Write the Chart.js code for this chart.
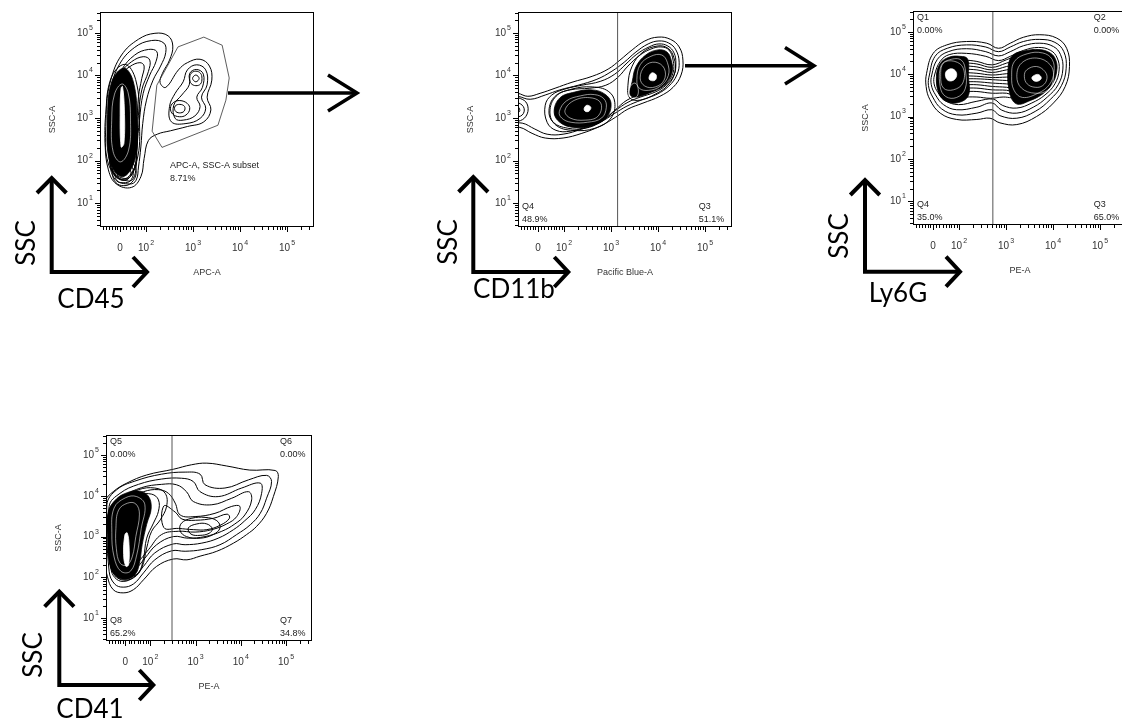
<!DOCTYPE html>
<html>
<head>
<meta charset="utf-8">
<script src="https://cdn.jsdelivr.net/npm/chart.js@4.4.1/dist/chart.umd.min.js"></script>
<style>
  html, body { margin: 0; padding: 0; background: #fff; }
  body { position: relative; width: 1122px; height: 723px; overflow: hidden; }
  canvas { position: absolute; }
  svg { position: absolute; left: 0; top: 0; }
  .big { position: absolute; font-family: Lato, "Open Sans", sans-serif; font-size: 26px; line-height: 1; color: #000; white-space: nowrap; transform: translate(-50%, -50%); }
  .big.rot { transform: translate(-50%, -50%) rotate(-90deg); }
</style>
</head>
<body>
<canvas id="p1" width="330" height="290" style="left:0px;top:0px"></canvas>
<canvas id="p2" width="330" height="290" style="left:418px;top:0px"></canvas>
<canvas id="p3" width="330" height="290" style="left:813px;top:0px"></canvas>
<canvas id="p4" width="330" height="290" style="left:6px;top:423px"></canvas>

<svg width="1122" height="723" fill="none" stroke="#000" stroke-width="4">
  <!-- axis arrows -->
  <polyline points="51.7,178 51.7,272 147,272" />
  <polyline points="37,193 51.7,178 66.4,193" />
  <polyline points="133,257 147,272 133,287" />
  <polyline points="473.3,177 473.3,272 568.3,272" />
  <polyline points="458.6,192 473.3,177 488,192" />
  <polyline points="554.3,257 568.3,272 554.3,287" />
  <polyline points="865,180 865,271.7 960,271.7" />
  <polyline points="850.3,195 865,180 879.7,195" />
  <polyline points="946,256.7 960,271.7 946,286.7" />
  <polyline points="59.3,591.7 59.3,685 153.3,685" />
  <polyline points="44.6,606.7 59.3,591.7 74,606.7" />
  <polyline points="139.3,670 153.3,685 139.3,700" />
  <!-- gating flow arrows -->
  <g stroke-width="3.5">
    <line x1="228" y1="93" x2="357" y2="93" />
    <polyline points="328,75 357,93 328,111" />
    <line x1="685" y1="65.7" x2="814" y2="65.7" />
    <polyline points="785,47.5 814,65.7 785,84" />
  </g>
</svg>

<div class="big rot" style="left:25px;top:243px">SSC</div>
<div class="big" style="left:91px;top:298px">CD45</div>
<div class="big rot" style="left:447px;top:242px">SSC</div>
<div class="big" style="left:514px;top:288px">CD11b</div>
<div class="big rot" style="left:838px;top:236px">SSC</div>
<div class="big" style="left:898px;top:292px">Ly6G</div>
<div class="big rot" style="left:32px;top:655px">SSC</div>
<div class="big" style="left:90px;top:708px">CD41</div>

<script>
// axis layout shared by all four plots (log10 units, logicle-compressed below 10^2)
const xMin = 1.021, xMax = 5.574;
const yMin = 0.44, yMax = 5.49;
const xTickPos = [1.447, 2, 3, 4, 5];
const xTickLabels = ["0", "10^2", "10^3", "10^4", "10^5"];
const xLowTicks = [1.08, 1.15, 1.22, 1.28, 1.34, 1.39, 1.52, 1.58, 1.65, 1.72, 1.78, 1.84, 1.9, 1.95];
const yTickPos = [1, 2, 3, 4, 5];
const yTickLabels = ["10^1", "10^2", "10^3", "10^4", "10^5"];

// ---- plot 1: APC-A (CD45) vs SSC-A ----
const p1Rings = [
  [[1.69,1.37],[1.37,1.45],[1.20,1.78],[1.13,2.40],[1.15,3.19],[1.25,3.89],[1.48,4.48],[1.84,4.85],[2.19,4.99],[2.47,4.93],[2.57,4.69],[2.50,4.36],[2.35,4.05],[2.30,3.83],[2.42,3.72],[2.69,4.13],[2.88,4.30],[3.15,4.38],[3.35,4.22],[3.40,3.89],[3.30,3.49],[3.38,3.19],[3.23,2.91],[2.88,2.80],[2.52,2.70],[2.24,2.62],[2.05,2.47],[1.96,2.05],[1.89,1.62]],
  [[1.66,1.45],[1.34,1.56],[1.22,2.05],[1.19,2.87],[1.25,3.66],[1.43,4.25],[1.76,4.66],[2.12,4.82],[2.38,4.76],[2.42,4.54],[2.31,4.22],[2.15,3.89],[2.01,3.42],[1.93,2.87],[1.89,2.32],[1.84,1.85],[1.79,1.54]],
  [[1.62,1.52],[1.34,1.66],[1.25,2.17],[1.23,2.95],[1.30,3.66],[1.48,4.13],[1.76,4.48],[2.05,4.61],[2.23,4.56],[2.21,4.32],[2.08,4.01],[1.94,3.58],[1.86,2.95],[1.81,2.32],[1.79,1.85],[1.73,1.58]],
  [[1.55,1.54],[1.30,1.70],[1.22,2.25],[1.20,2.95],[1.27,3.66],[1.45,4.05],[1.69,4.32],[1.94,4.44],[2.08,4.36],[2.05,4.09],[1.91,3.66],[1.83,2.95],[1.80,2.25],[1.74,1.78]],
  [[1.59,1.58],[1.29,1.76],[1.20,2.40],[1.20,3.03],[1.25,3.70],[1.41,3.97],[1.66,4.21],[1.87,4.30],[1.96,4.22],[1.91,3.93],[1.84,3.50],[1.81,2.87],[1.80,2.25],[1.76,1.81]],
  [[1.55,4.26],[1.78,3.90],[1.86,2.95],[1.80,1.98],[1.52,1.56],[1.20,1.92],[1.15,2.95],[1.25,3.92]],
  [[1.55,2.05],[1.73,1.93],[1.79,1.70],[1.69,1.48],[1.53,1.41],[1.36,1.48],[1.29,1.70],[1.36,1.93]],
  [[1.54,1.97],[1.69,1.87],[1.73,1.70],[1.66,1.52],[1.53,1.48],[1.39,1.52],[1.34,1.70],[1.40,1.87]],
  [[1.54,1.89],[1.64,1.82],[1.68,1.68],[1.62,1.57],[1.53,1.54],[1.43,1.57],[1.39,1.68],[1.43,1.82]],
  [[2.54,2.91],[2.50,3.27],[2.62,3.58],[2.79,3.85],[2.88,4.13],[3.08,4.25],[3.27,4.13],[3.30,3.78],[3.18,3.49],[3.27,3.23],[3.15,2.99],[2.85,2.87]],
  [[2.62,2.99],[2.59,3.30],[2.76,3.54],[2.92,3.78],[2.93,4.05],[3.08,4.14],[3.22,4.03],[3.20,3.72],[3.08,3.49],[3.15,3.27],[3.04,3.05],[2.79,2.95]],
  [[3.06,4.10],[3.16,4.05],[3.19,3.93],[3.16,3.80],[3.06,3.76],[2.96,3.81],[2.93,3.93],[2.96,4.05]],
  [[3.06,4.01],[3.13,3.93],[3.06,3.85],[2.99,3.93]],
  [[2.72,3.41],[2.88,3.34],[2.93,3.21],[2.85,3.07],[2.71,3.03],[2.57,3.09],[2.52,3.23],[2.58,3.36]],
  [[2.72,3.32],[2.82,3.27],[2.81,3.16],[2.71,3.12],[2.62,3.17],[2.62,3.28]]
];
const p1Core = [
  [[1.53,4.17],[1.73,3.85],[1.81,2.95],[1.76,2.01],[1.50,1.62],[1.23,1.97],[1.18,2.95],[1.27,3.85]]
];
const p1Texture = [
  [[1.49,3.80],[1.62,3.59],[1.67,2.95],[1.63,2.25],[1.46,1.97],[1.30,2.21],[1.27,2.95],[1.33,3.56]]
];
const p1Bright = [
  [[1.50,3.74],[1.54,3.19],[1.53,2.40],[1.47,2.32],[1.45,3.19],[1.47,3.70]]
];
const p1Gate = [[2.68,4.67],[3.23,4.90],[3.62,4.71],[3.77,3.94],[3.70,3.42],[3.53,2.83],[2.34,2.31],[2.13,2.69],[2.23,3.77]];
const p1Subset = ["APC-A, SSC-A subset", "8.71%"];

// ---- plot 2: Pacific Blue-A (CD11b) vs SSC-A ----
const p2Rings = [
  [[0.74,3.61],[1.02,3.58],[1.23,3.51],[1.49,3.58],[1.81,3.70],[2.17,3.84],[2.60,3.98],[2.94,4.15],[3.19,4.36],[3.45,4.60],[3.72,4.81],[4.00,4.90],[4.26,4.85],[4.45,4.67],[4.53,4.36],[4.49,4.01],[4.32,3.72],[4.04,3.51],[3.68,3.35],[3.36,3.21],[3.10,3.02],[2.77,2.81],[2.38,2.64],[1.98,2.53],[1.60,2.53],[1.32,2.64],[1.06,2.78],[0.74,2.78],[0.53,3.18]],
  [[0.74,3.54],[1.02,3.51],[1.28,3.44],[1.60,3.54],[1.91,3.66],[2.30,3.77],[2.70,3.91],[3.02,4.10],[3.28,4.31],[3.53,4.55],[3.79,4.74],[4.02,4.81],[4.23,4.76],[4.38,4.60],[4.45,4.31],[4.40,4.01],[4.23,3.75],[3.98,3.56],[3.64,3.42],[3.34,3.28],[3.08,3.11],[2.77,2.90],[2.38,2.74],[1.98,2.62],[1.64,2.62],[1.38,2.74],[1.11,2.88],[0.74,2.88],[0.53,3.20]],
  [[1.60,3.30],[1.74,3.54],[2.02,3.68],[2.38,3.77],[2.77,3.86],[3.08,4.03],[3.32,4.27],[3.55,4.50],[3.81,4.67],[4.02,4.74],[4.21,4.69],[4.34,4.53],[4.38,4.29],[4.34,4.01],[4.17,3.77],[3.94,3.61],[3.62,3.49],[3.36,3.37],[3.10,3.18],[2.85,2.97],[2.51,2.81],[2.13,2.69],[1.83,2.71],[1.64,2.90]],
  [[1.68,3.18],[1.81,3.51],[2.13,3.66],[2.55,3.70],[2.89,3.77],[3.15,3.96],[3.36,4.22],[3.62,4.48],[3.85,4.62],[4.06,4.67],[4.23,4.60],[4.32,4.36],[4.32,4.06],[4.17,3.80],[3.91,3.63],[3.62,3.54],[3.34,3.42],[3.08,3.18],[2.77,2.90],[2.45,2.76],[2.08,2.76],[1.77,2.90]],
  [[1.70,3.14],[1.83,3.51],[2.17,3.68],[2.60,3.73],[2.94,3.63],[3.08,3.37],[3.00,3.00],[2.66,2.76],[2.19,2.71],[1.83,2.83]],
  [[3.36,3.77],[3.45,4.22],[3.68,4.55],[3.98,4.69],[4.21,4.64],[4.34,4.41],[4.36,4.08],[4.21,3.77],[3.94,3.56],[3.62,3.42],[3.40,3.47]],
  [[0.81,3.47],[1.11,3.44],[1.23,3.28],[1.19,3.04],[1.02,2.92],[0.81,2.92]],
  [[0.85,3.37],[1.04,3.35],[1.15,3.23],[1.11,3.07],[0.94,3.02],[0.85,3.04]],
  [[0.89,3.28],[1.00,3.28],[1.06,3.18],[1.00,3.11],[0.89,3.11]]
];
const p2Core = [
  [[1.79,3.14],[1.91,3.47],[2.23,3.61],[2.60,3.66],[2.87,3.56],[3.00,3.35],[2.91,3.02],[2.62,2.83],[2.21,2.78],[1.91,2.90]],
  [[3.40,3.60],[3.45,3.85],[3.53,4.20],[3.74,4.48],[4.00,4.60],[4.19,4.55],[4.28,4.36],[4.30,4.08],[4.15,3.80],[3.89,3.63],[3.62,3.51],[3.45,3.50]]
];
const p2Texture = [
  [[1.90,3.15],[2.05,3.40],[2.35,3.52],[2.65,3.55],[2.85,3.45],[2.90,3.25],[2.80,3.00],[2.50,2.90],[2.15,2.90],[1.95,3.00]],
  [[2.02,3.18],[2.23,3.42],[2.60,3.47],[2.79,3.33],[2.72,3.04],[2.45,2.95],[2.13,3.00]],
  [[3.55,3.90],[3.62,4.25],[3.85,4.45],[4.08,4.48],[4.20,4.30],[4.22,4.00],[4.05,3.75],[3.80,3.65],[3.60,3.70]],
  [[3.62,3.94],[3.72,4.22],[3.94,4.31],[4.13,4.17],[4.13,3.89],[3.94,3.73],[3.72,3.75]],
  [[3.38,3.61],[3.43,3.77],[3.51,3.82],[3.57,3.73],[3.57,3.54],[3.49,3.47],[3.40,3.49]]
];
const p2Bright = [
  [[2.43,3.23],[2.49,3.30],[2.57,3.25],[2.53,3.16],[2.45,3.16]],
  [[3.81,3.96],[3.87,4.06],[3.96,4.01],[3.94,3.89],[3.83,3.89]]
];
const p2GateX = 3.14;
const p2QuadNames = ["Q4", "Q3"];
const p2QuadValues = ["48.9%", "51.1%"];

// ---- plot 3: PE-A (Ly6G) vs SSC-A ----
const p3Rings = [
  [[1.31,4.02],[1.45,4.49],[1.74,4.69],[2.16,4.77],[2.59,4.73],[2.84,4.61],[3.09,4.73],[3.37,4.87],[3.72,4.93],[4.08,4.85],[4.29,4.61],[4.35,4.18],[4.26,3.71],[4.01,3.32],[3.65,3.00],[3.23,2.81],[2.87,2.85],[2.66,2.96],[2.38,2.93],[1.95,2.93],[1.60,3.08],[1.38,3.40],[1.30,3.71]],
  [[1.37,3.98],[1.49,4.42],[1.75,4.61],[2.16,4.69],[2.57,4.64],[2.84,4.53],[3.09,4.64],[3.37,4.77],[3.72,4.82],[4.04,4.75],[4.23,4.53],[4.28,4.14],[4.18,3.73],[3.94,3.40],[3.62,3.12],[3.23,2.96],[2.87,3.02],[2.70,3.16],[2.38,3.08],[1.95,3.04],[1.63,3.18],[1.44,3.46],[1.35,3.73]],
  [[1.42,3.98],[1.54,4.35],[1.77,4.53],[2.16,4.60],[2.57,4.53],[2.84,4.43],[3.09,4.53],[3.37,4.67],[3.72,4.73],[4.01,4.65],[4.16,4.46],[4.21,4.12],[4.11,3.75],[3.88,3.46],[3.58,3.22],[3.23,3.08],[2.91,3.15],[2.70,3.32],[2.38,3.22],[1.95,3.16],[1.67,3.28],[1.50,3.51],[1.41,3.75]],
  [[1.48,3.98],[1.60,4.30],[1.79,4.46],[2.16,4.49],[2.57,4.42],[2.84,4.32],[3.09,4.42],[3.37,4.56],[3.69,4.63],[3.95,4.56],[4.09,4.38],[4.13,4.10],[4.04,3.77],[3.83,3.51],[3.55,3.32],[3.23,3.20],[2.93,3.26],[2.73,3.41],[2.38,3.36],[1.99,3.28],[1.70,3.38],[1.55,3.57],[1.47,3.77]]
];
const p3Waist = [
  [[2.09,4.34],[2.38,4.30],[2.70,4.22],[3.01,4.34],[3.19,4.42]],
  [[2.09,4.27],[2.38,4.24],[2.70,4.16],[3.01,4.26],[3.18,4.32]],
  [[2.09,4.20],[2.38,4.17],[2.70,4.10],[3.01,4.18],[3.17,4.22]],
  [[2.09,4.12],[2.38,4.10],[2.70,4.04],[3.01,4.10],[3.15,4.12]],
  [[2.09,4.04],[2.38,4.02],[2.70,3.98],[3.01,4.01],[3.12,4.02]],
  [[2.09,3.96],[2.38,3.95],[2.70,3.92],[3.01,3.93],[3.12,3.93]],
  [[2.09,3.89],[2.38,3.89],[2.70,3.87],[3.01,3.85],[3.12,3.85]],
  [[2.09,3.82],[2.38,3.82],[2.70,3.79],[3.01,3.77],[3.12,3.76]],
  [[2.09,3.75],[2.38,3.75],[2.70,3.71],[3.01,3.69],[3.12,3.67]],
  [[2.09,3.67],[2.38,3.67],[2.70,3.63],[3.01,3.62],[3.12,3.59]],
  [[2.09,3.59],[2.38,3.59],[2.70,3.55],[3.01,3.55],[3.12,3.51]],
  [[2.06,3.46],[2.38,3.46],[2.67,3.43],[2.94,3.46],[3.12,3.44]]
];
const p3Core = [
  [[1.52,3.95],[1.60,4.25],[1.79,4.40],[2.02,4.42],[2.18,4.36],[2.20,3.95],[2.20,3.50],[1.99,3.33],[1.72,3.36],[1.57,3.55]],
  [[3.05,4.20],[3.15,4.45],[3.40,4.55],[3.70,4.58],[3.94,4.50],[4.06,4.33],[4.08,4.08],[3.99,3.78],[3.80,3.55],[3.52,3.38],[3.22,3.30],[3.07,3.60]]
];
const p3Texture = [
  [[1.62,4.20],[1.80,4.34],[2.05,4.33],[2.14,4.05],[2.13,3.65],[1.95,3.45],[1.72,3.47],[1.60,3.70]],
  [[1.67,4.26],[1.91,4.30],[2.09,4.14],[2.08,3.79],[1.88,3.63],[1.67,3.67],[1.61,3.95]],
  [[3.18,4.30],[3.45,4.48],[3.78,4.50],[3.98,4.35],[4.02,4.05],[3.92,3.75],[3.68,3.55],[3.35,3.45],[3.17,3.62],[3.12,3.95]],
  [[3.33,4.26],[3.65,4.38],[3.94,4.22],[4.01,3.91],[3.90,3.63],[3.62,3.55],[3.33,3.67],[3.23,3.95]],
  [[3.44,4.10],[3.65,4.18],[3.83,4.06],[3.87,3.89],[3.78,3.73],[3.62,3.69],[3.45,3.77],[3.39,3.95]]
];
const p3Bright = [
  [[1.75,4.09],[1.87,4.12],[1.95,4.01],[1.90,3.87],[1.77,3.85],[1.71,3.98]],
  [[3.60,3.97],[3.69,3.99],[3.75,3.91],[3.69,3.84],[3.60,3.84],[3.55,3.91]]
];
const p3GateX = 2.72;
const p3QuadNames = ["Q1", "Q2", "Q4", "Q3"];
const p3QuadValues = ["0.00%", "0.00%", "35.0%", "65.0%"];

// ---- plot 4: PE-A (CD41) vs SSC-A ----
const p4Rings = [
  [[1.00,3.86],[1.18,4.10],[1.48,4.31],[1.92,4.51],[2.51,4.65],[2.91,4.76],[3.25,4.80],[3.69,4.73],[4.20,4.63],[4.76,4.62],[4.83,4.47],[4.72,3.98],[4.57,3.57],[4.35,3.25],[4.13,3.05],[3.84,2.84],[3.47,2.64],[3.10,2.52],[2.81,2.43],[2.51,2.45],[2.14,2.27],[1.85,1.94],[1.63,1.70],[1.40,1.62],[1.18,1.70],[1.05,2.03],[0.90,2.90]],
  [[1.04,3.78],[1.26,4.15],[1.66,4.36],[2.25,4.53],[2.77,4.58],[3.10,4.53],[3.21,4.27],[3.65,4.19],[4.17,4.39],[4.57,4.50],[4.68,4.35],[4.57,3.94],[4.43,3.57],[4.21,3.29],[3.91,3.05],[3.54,2.80],[3.14,2.68],[2.77,2.64],[2.47,2.65],[2.10,2.43],[1.85,2.11],[1.63,1.84],[1.40,1.76],[1.21,1.84],[1.09,2.15]],
  [[1.09,3.74],[1.33,4.06],[1.74,4.28],[2.25,4.41],[2.69,4.43],[2.95,4.35],[3.10,4.10],[3.50,3.98],[4.02,4.19],[4.43,4.31],[4.46,4.06],[4.32,3.66],[4.09,3.39],[3.84,3.17],[3.50,2.96],[3.14,2.84],[2.77,2.80],[2.51,2.82],[2.10,2.60],[1.85,2.27],[1.63,2.00],[1.40,1.90],[1.22,1.99],[1.13,2.23]],
  [[1.15,3.70],[1.40,3.98],[1.81,4.20],[2.25,4.28],[2.58,4.27],[2.80,4.10],[2.95,3.86],[3.36,3.78],[3.80,3.94],[4.17,4.10],[4.24,3.90],[4.09,3.53],[3.87,3.31],[3.58,3.13],[3.21,3.00],[2.84,2.96],[2.51,3.00],[2.14,2.80],[1.88,2.47],[1.66,2.19],[1.44,2.07],[1.28,2.15],[1.18,2.35]],
  [[1.21,3.66],[1.48,3.90],[1.85,4.10],[2.18,4.15],[2.40,4.06],[2.55,3.82],[2.66,3.53],[2.99,3.49],[3.43,3.57],[3.80,3.74],[3.98,3.74],[3.91,3.49],[3.69,3.31],[3.36,3.17],[2.99,3.11],[2.62,3.13],[2.25,3.05],[1.96,2.68],[1.70,2.35],[1.48,2.21],[1.33,2.29],[1.24,2.47]],
  [[2.30,3.75],[2.55,3.60],[2.70,3.43],[3.00,3.40],[3.40,3.45],[3.70,3.55],[3.75,3.45],[3.55,3.28],[3.25,3.17],[2.95,3.17],[2.62,3.20],[2.30,3.22]],
  [[1.11,3.62],[1.37,3.94],[1.74,4.15],[2.10,4.19],[2.33,4.06],[2.36,3.74],[2.22,3.41],[2.03,3.13],[1.92,2.72],[1.81,2.23],[1.63,1.99],[1.37,1.94],[1.18,2.11],[1.09,2.56]],
  [[1.13,3.57],[1.40,3.86],[1.74,4.02],[2.03,4.04],[2.18,3.90],[2.18,3.62],[2.07,3.33],[1.92,2.96],[1.85,2.47],[1.74,2.11],[1.55,2.03],[1.33,2.07],[1.18,2.23],[1.11,2.64]],
  [[2.69,3.33],[2.92,3.45],[3.21,3.47],[3.47,3.39],[3.54,3.21],[3.39,3.05],[3.10,2.96],[2.80,3.00],[2.66,3.14]],
  [[2.84,3.21],[3.03,3.31],[3.25,3.31],[3.37,3.19],[3.30,3.08],[3.10,3.03],[2.90,3.06]]
];
const p4Core = [
  [[1.07,3.60],[1.25,3.92],[1.50,4.08],[1.74,4.12],[1.95,4.00],[2.02,3.70],[1.92,3.30],[1.82,2.80],[1.76,2.35],[1.66,2.06],[1.44,1.95],[1.22,2.05],[1.09,2.39],[1.06,3.05]]
];
const p4Texture = [
  [[1.20,3.70],[1.45,3.95],[1.70,3.98],[1.88,3.78],[1.80,3.20],[1.70,2.55],[1.56,2.15],[1.35,2.15],[1.20,2.50],[1.15,3.10]],
  [[1.30,3.65],[1.50,3.82],[1.68,3.80],[1.76,3.55],[1.68,3.00],[1.60,2.50],[1.48,2.30],[1.33,2.35],[1.25,2.70],[1.24,3.20]]
];
const p4Bright = [
  [[1.44,3.05],[1.49,3.09],[1.53,2.80],[1.52,2.31],[1.46,2.27],[1.41,2.56]]
];
const p4GateX = 2.48;
const p4QuadNames = ["Q5", "Q6", "Q8", "Q7"];
const p4QuadValues = ["0.00%", "0.00%", "65.2%", "34.8%"];

const quadCorners2 = ["bl", "br"];
const quadCorners4 = ["tl", "tr", "bl", "br"];

// minor tick marks of the logicle / log axes
const xMinor = xLowTicks.slice();
for (let d = 2; d <= 5; d++) {
    for (let k = 2; k <= 9; k++) {
        const v = d + Math.log10(k);
        if (v < xMax) xMinor.push(v);
    }
}
const yMinor = [];
for (let d = 0; d <= 5; d++) {
    for (let k = 2; k <= 9; k++) {
        const v = d + Math.log10(k);
        if (v > yMin && v < yMax) yMinor.push(v);
    }
}

const SMALL = '"Liberation Sans", Arial, sans-serif';

// closed contour: wrap a point on both ends so the curve is smooth at the seam,
// the two wrap segments are left invisible
function ring(pts, color, width, order) {
    const n = pts.length;
    return {
        data: [pts[n - 1]].concat(pts, [pts[0], pts[1]]),
        showLine: true,
        fill: false,
        tension: 0.4,
        borderColor: color,
        borderWidth: width,
        pointRadius: 0,
        order: order,
        segment: {
            borderColor: function (c) {
                return c.p0DataIndex === 0 || c.p0DataIndex === n + 1 ? "rgba(0,0,0,0)" : undefined;
            },
        },
    };
}

function blob(pts, color, order) {
    const d = ring(pts, color, 0.8, order);
    d.fill = "shape";
    d.backgroundColor = color;
    return d;
}

function path(pts, color, width, order, tension) {
    return {
        data: pts,
        showLine: true,
        fill: false,
        tension: tension,
        borderColor: color,
        borderWidth: width,
        pointRadius: 0,
        order: order,
    };
}

function gateLine(x) {
    return path([[x, yMin - 1], [x, yMax + 1]], "#555", 1, 0, 0);
}

function powText(ctx, label, x, y, align) {
    const parts = label.split("^");
    ctx.font = "10px " + SMALL;
    const wb = ctx.measureText(parts[0]).width;
    let we = 0;
    if (parts[1]) {
        ctx.font = "7px " + SMALL;
        we = ctx.measureText(parts[1]).width + 1;
    }
    const sx = align === "right" ? x - wb - we : x - (wb + we) / 2;
    ctx.textAlign = "left";
    ctx.textBaseline = "middle";
    ctx.font = "10px " + SMALL;
    ctx.fillText(parts[0], sx, y);
    if (parts[1]) {
        ctx.font = "7px " + SMALL;
        ctx.fillText(parts[1], sx + wb + 1, y - 5);
    }
}

// frame, ticks, tick labels, axis titles and quadrant stats, FlowJo style
const flowAxes = {
    id: "flowAxes",
    afterDatasetsDraw(chart, args, o) {
        const ctx = chart.ctx;
        const a = chart.chartArea;
        const sx = chart.scales.x;
        const sy = chart.scales.y;
        const w = a.right - a.left;
        const h = a.bottom - a.top;
        ctx.save();
        ctx.strokeStyle = "#000";
        ctx.lineWidth = 1;
        ctx.strokeRect(a.left + 0.5, a.top + 0.5, w - 1, h - 1);

        ctx.beginPath();
        xMinor.forEach(function (v) {
            const p = Math.round(sx.getPixelForValue(v)) + 0.5;
            ctx.moveTo(p, a.bottom);
            ctx.lineTo(p, a.bottom + 3);
        });
        xTickPos.forEach(function (v) {
            const p = Math.round(sx.getPixelForValue(v)) + 0.5;
            ctx.moveTo(p, a.bottom);
            ctx.lineTo(p, a.bottom + 5);
        });
        yMinor.forEach(function (v) {
            const p = Math.round(sy.getPixelForValue(v)) + 0.5;
            ctx.moveTo(a.left, p);
            ctx.lineTo(a.left - 3, p);
        });
        yTickPos.forEach(function (v) {
            const p = Math.round(sy.getPixelForValue(v)) + 0.5;
            ctx.moveTo(a.left, p);
            ctx.lineTo(a.left - 5, p);
        });
        ctx.stroke();

        ctx.fillStyle = "#333";
        xTickPos.forEach(function (v, i) {
            powText(ctx, xTickLabels[i], sx.getPixelForValue(v), a.bottom + 21, "center");
        });
        yTickPos.forEach(function (v, i) {
            powText(ctx, yTickLabels[i], a.left - 7, sy.getPixelForValue(v), "right");
        });

        ctx.font = "9px " + SMALL;
        ctx.textAlign = "center";
        ctx.textBaseline = "middle";
        ctx.fillText(o.xTitle, a.left + w / 2, a.bottom + 46);
        ctx.save();
        ctx.translate(a.left - 47, a.top + h / 2);
        ctx.rotate(-Math.PI / 2);
        ctx.fillText("SSC-A", 0, 0);
        ctx.restore();

        ctx.fillStyle = "#222";
        ctx.textAlign = "left";
        (o.quadNames || []).forEach(function (name, i) {
            const c = o.quadCorners[i];
            const x = c[1] === "l" ? a.left + 4 : a.left + w * 0.845;
            const y1 = c[0] === "t" ? a.top + 7 : a.bottom - 20;
            ctx.fillText(name, x, y1);
            ctx.fillText(o.quadValues[i], x, y1 + 13);
        });
        if (o.note) {
            ctx.fillText(o.note[0], a.left + 70, a.top + 154);
            ctx.fillText(o.note[1], a.left + 70, a.top + 167);
        }
        ctx.restore();
    },
};

function makePanel(id, datasets, pad, axisOpts) {
    return new Chart(document.getElementById(id), {
        type: "scatter",
        data: { datasets: datasets },
        options: {
            responsive: false,
            animation: false,
            devicePixelRatio: 1,
            layout: { padding: pad },
            scales: {
                x: { type: "linear", min: xMin, max: xMax, display: false },
                y: { type: "linear", min: yMin, max: yMax, display: false },
            },
            plugins: {
                legend: { display: false },
                tooltip: { enabled: false },
                flowAxes: axisOpts,
            },
        },
        plugins: [flowAxes],
    });
}

function build(rings, cores, texture, bright, extra) {
    let ds = [];
    cores.forEach(function (p) { ds.push(blob(p, "#000", 6)); });
    rings.forEach(function (p) { ds.push(ring(p, "#000", 1, 4)); });
    (extra || []).forEach(function (p) { ds.push(path(p, "#000", 1, 4, 0.4)); });
    texture.forEach(function (p) { ds.push(ring(p, "rgba(255,255,255,0.8)", 0.7, 3)); });
    bright.forEach(function (p) { ds.push(blob(p, "#fff", 2)); });
    return ds;
}

const ds1 = build(p1Rings, p1Core, p1Texture, p1Bright);
ds1.push(path(p1Gate.concat([p1Gate[0]]), "#333", 0.8, 1, 0));
makePanel("p1", ds1, { left: 100, top: 12, right: 16, bottom: 63 }, { xTitle: "APC-A", note: p1Subset });

const ds2 = build(p2Rings, p2Core, p2Texture, p2Bright);
ds2.push(gateLine(p2GateX));
makePanel("p2", ds2, { left: 100, top: 12, right: 16, bottom: 63 }, {
    xTitle: "Pacific Blue-A", quadNames: p2QuadNames, quadValues: p2QuadValues, quadCorners: quadCorners2,
});

const ds3 = build(p3Rings, p3Core, p3Texture, p3Bright, p3Waist);
ds3.push(gateLine(p3GateX));
makePanel("p3", ds3, { left: 100, top: 11, right: 16, bottom: 65 }, {
    xTitle: "PE-A", quadNames: p3QuadNames, quadValues: p3QuadValues, quadCorners: quadCorners4,
});

const ds4 = build(p4Rings, p4Core, p4Texture, p4Bright);
ds4.push(gateLine(p4GateX));
makePanel("p4", ds4, { left: 100, top: 12, right: 24, bottom: 72 }, {
    xTitle: "PE-A", quadNames: p4QuadNames, quadValues: p4QuadValues, quadCorners: quadCorners4,
});
</script>
</body>
</html>
